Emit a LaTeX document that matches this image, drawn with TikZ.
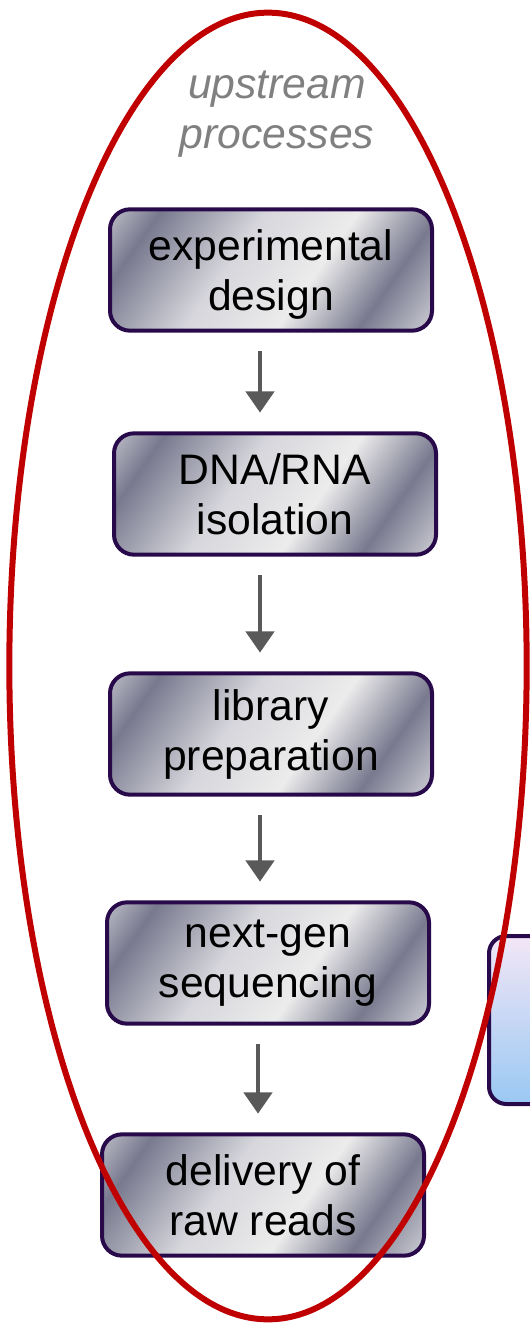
\documentclass[tikz,border=0pt]{standalone}
\usepackage{fontspec}
\setmainfont{Liberation Sans}
\usetikzlibrary{arrows.meta}
\definecolor{boxline}{RGB}{40,10,75}
\definecolor{cdark}{RGB}{120,121,142}
\definecolor{clight}{RGB}{214,214,220}
\definecolor{cwhite}{RGB}{236,236,236}
\definecolor{cmid}{RGB}{168,168,180}
\definecolor{arrowgray}{RGB}{89,89,89}
\definecolor{ringred}{RGB}{192,0,0}
\definecolor{bluetop}{RGB}{243,230,246}
\definecolor{bluebot}{RGB}{153,200,243}
\pgfdeclarehorizontalshading{chrome}{100bp}{color(0bp)=(cdark); color(12bp)=(clight); color(24bp)=(cdark); color(42bp)=(clight); color(58bp)=(cwhite); color(72bp)=(cdark); color(86bp)=(clight); color(100bp)=(cmid)}
\tikzset{
  stepbox/.style={draw=boxline, line width=3pt, rounded corners=15pt,
    shading=chrome, shading angle=-35, minimum width=241.5pt, minimum height=91pt,
    align=center, font=\fontsize{32}{37.5}\selectfont, inner sep=0pt},
  flow/.style={draw=arrowgray, line width=3.6pt,
    -{Triangle[length=16pt,width=21pt]}, shorten <=14pt, shorten >=14pt},
}
\begin{document}
\begin{tikzpicture}[x=0.75pt,y=-0.75pt]
    \useasboundingbox (0,0) rectangle (529,1326);
    \node[text=gray, align=center, font=\fontsize{32}{37.5}\selectfont\itshape] (title) at (277,114) {upstream\\processes};
    \node[stepbox, text depth=0pt] (design) at (271,270) {experimental\\design};
    \node[stepbox] (isolation) at (275,494) {DNA/RNA\\isolation};
    \node[stepbox] (library) at (271,734) {library\\preparation};
    \node[stepbox] (sequencing) at (268,963) {next-gen\\sequencing};
    \node[stepbox] (delivery) at (263,1195) {delivery of\\raw reads};
    \node[draw=boxline, line width=3pt, rounded corners=13pt, top color=bluetop, bottom color=bluebot,
      minimum width=225pt, minimum height=126pt, anchor=north west] (nextbox) at (487,934) {};
    \draw[flow] (design.south -| 260,0) -- (isolation.north -| 260,0);
    \draw[flow] (isolation.south -| 260,0) -- (library.north -| 260,0);
    \draw[flow] (library.south -| 260,0) -- (sequencing.north -| 260,0);
    \draw[flow] (sequencing.south -| 258,0) -- (delivery.north -| 258,0);
    \draw[ringred, line width=4.5pt] (268,666) ellipse [x radius=194pt, y radius=490pt];
\end{tikzpicture}
\end{document}
